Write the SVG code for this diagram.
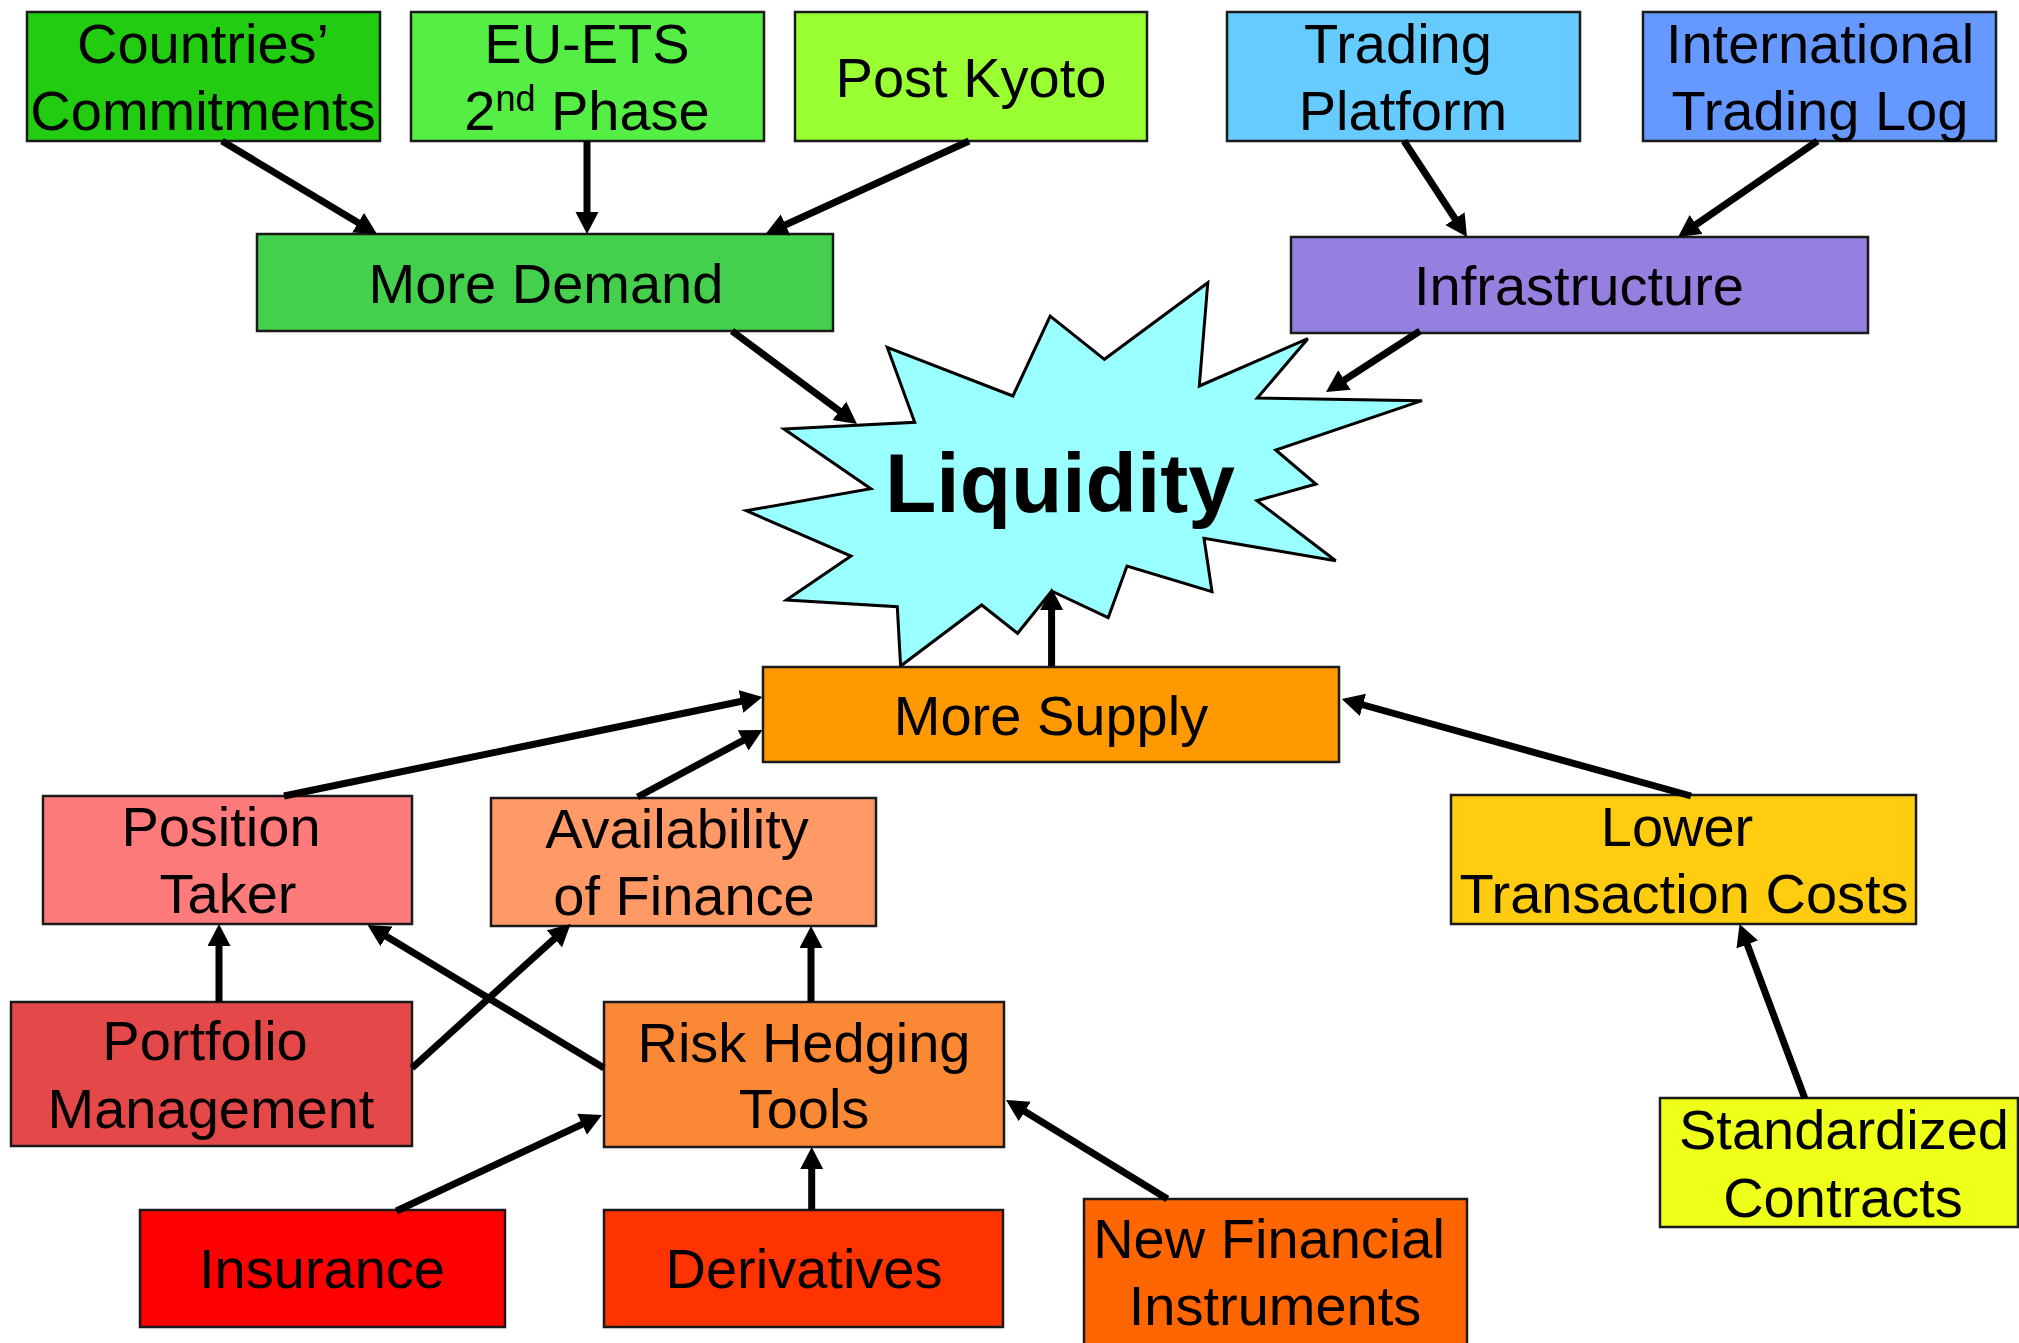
<svg xmlns="http://www.w3.org/2000/svg" width="2019" height="1343" viewBox="0 0 2019 1343">
<defs>
<style>
.box{stroke:#1a1a1a;stroke-width:2.5}
.t{font-family:"Liberation Sans",Arial,sans-serif;font-size:56px;fill:#000;text-anchor:middle}
.big{font-family:"Liberation Sans",Arial,sans-serif;font-size:84px;font-weight:bold;fill:#000;text-anchor:middle}
.c{stroke:#000;stroke-width:7;fill:none;marker-end:url(#ah)}
</style>
<marker id="ah" markerUnits="userSpaceOnUse" markerWidth="24" markerHeight="24" refX="7" refY="11.5" orient="auto">
<path d="M0,0 L22,11.5 L0,23 Z" fill="#000"/>
</marker>
</defs>
<rect width="2019" height="1343" fill="#fff"/>

<g id="countries">
<rect class="box" x="27" y="12" width="353" height="129" fill="#22cc11"/>
<text class="t" x="203" y="63">Countries’</text>
<text class="t" x="203" y="130">Commitments</text>
</g>
<g id="euets">
<rect class="box" x="411" y="12" width="353" height="129" fill="#55ee44"/>
<text class="t" x="587" y="63">EU-ETS</text>
<text class="t" x="587" y="130"><tspan>2</tspan><tspan font-size="36" dy="-19">nd</tspan><tspan dy="19"> Phase</tspan></text>
</g>
<g id="postkyoto">
<rect class="box" x="795" y="12" width="352" height="129" fill="#99ff33"/>
<text class="t" x="971" y="97">Post Kyoto</text>
</g>
<g id="moredemand">
<rect class="box" x="257" y="234" width="576" height="97" fill="#44d04c"/>
<text class="t" x="546" y="303">More Demand</text>
</g>
<g id="tradingplatform">
<rect class="box" x="1227" y="12" width="353" height="129" fill="#66ccff"/>
<text class="t" x="1398" y="63">Trading</text>
<text class="t" x="1403" y="130">Platform</text>
</g>
<g id="itl">
<rect class="box" x="1643" y="12" width="353" height="129" fill="#6699ff"/>
<text class="t" x="1820" y="63">International</text>
<text class="t" x="1820" y="130">Trading Log</text>
</g>
<g id="infrastructure">
<rect class="box" x="1291" y="237" width="577" height="96" fill="#9580e0"/>
<text class="t" x="1579" y="305">Infrastructure</text>
</g>
<g id="liquidity">
<polygon points="887.3,347.3 1012.9,396 1050.2,316 1104.4,359.3 1207.8,282.7 1199.3,386 1307.8,338.7 1257.3,398 1422,400.7 1275.7,450 1315.9,484 1256.9,500.7 1335.7,560.7 1204,538.3 1212,591.7 1127,566 1108.2,617.7 1051.6,591 1017.6,633.3 981.7,605 900.6,666 897.3,606.7 786.4,600 851,556 746.2,510.7 870.8,488.7 784,429 914.7,422.3" fill="#99ffff" stroke="#000" stroke-width="3" stroke-linejoin="miter"/>
<text class="big" x="1060" y="512">Liquidity</text>
</g>
<g id="moresupply">
<rect class="box" x="763" y="667" width="576" height="95" fill="#ff9900"/>
<text class="t" x="1051" y="735">More Supply</text>
</g>
<g id="positiontaker">
<rect class="box" x="43" y="796" width="369" height="128" fill="#ff7b7b"/>
<text class="t" x="221" y="846">Position</text>
<text class="t" x="228" y="913">Taker</text>
</g>
<g id="availability">
<rect class="box" x="491" y="798" width="385" height="128" fill="#ff9966"/>
<text class="t" x="677" y="848">Availability</text>
<text class="t" x="684" y="915">of Finance</text>
</g>
<g id="lowertc">
<rect class="box" x="1451" y="795" width="465" height="129" fill="#ffcc0f"/>
<text class="t" x="1677" y="846">Lower</text>
<text class="t" x="1684" y="913">Transaction Costs</text>
</g>
<g id="portfolio">
<rect class="box" x="11" y="1002" width="401" height="144" fill="#e54848"/>
<text class="t" x="205" y="1060">Portfolio</text>
<text class="t" x="211" y="1128">Management</text>
</g>
<g id="riskhedging">
<rect class="box" x="604" y="1002" width="400" height="145" fill="#fb8835"/>
<text class="t" x="804" y="1062">Risk Hedging</text>
<text class="t" x="804" y="1128">Tools</text>
</g>
<g id="standardized">
<rect class="box" x="1660" y="1098" width="358" height="129" fill="#eeff1a"/>
<text class="t" x="1844" y="1149">Standardized</text>
<text class="t" x="1843" y="1217">Contracts</text>
</g>
<g id="insurance">
<rect class="box" x="140" y="1210" width="365" height="117" fill="#ff0000"/>
<text class="t" x="322" y="1288">Insurance</text>
</g>
<g id="derivatives">
<rect class="box" x="604" y="1210" width="399" height="117" fill="#ff3300"/>
<text class="t" x="804" y="1288">Derivatives</text>
</g>
<g id="newfinancial">
<rect class="box" x="1084" y="1199" width="383" height="160" fill="#ff6600"/>
<text class="t" x="1269" y="1258">New Financial</text>
<text class="t" x="1275" y="1325">Instruments</text>
</g>

<g id="connectors">
<line class="c" x1="222" y1="141" x2="364.1" y2="226.3"/>
<line class="c" x1="587" y1="141" x2="587" y2="219"/>
<line class="c" x1="969" y1="141" x2="779.2" y2="227.8"/>
<line class="c" x1="732" y1="331" x2="845" y2="415"/>
<line class="c" x1="1404" y1="141" x2="1458.8" y2="224.5"/>
<line class="c" x1="1817.5" y1="141" x2="1690.4" y2="228.5"/>
<line class="c" x1="1420" y1="331" x2="1338.6" y2="383.8"/>
<line class="c" x1="1051.6" y1="666" x2="1051.6" y2="603"/>
<line class="c" x1="284" y1="796" x2="747.8" y2="700"/>
<line class="c" x1="637.6" y1="797" x2="749.3" y2="737.1"/>
<line class="c" x1="1691" y1="796" x2="1356.2" y2="703"/>
<line class="c" x1="219" y1="1002" x2="219" y2="939"/>
<line class="c" x1="412" y1="1068" x2="559.5" y2="934.1"/>
<line class="c" x1="604" y1="1068" x2="380.4" y2="932.8"/>
<line class="c" x1="811" y1="1002" x2="811" y2="941"/>
<line class="c" x1="396.4" y1="1211" x2="588.4" y2="1121.3"/>
<line class="c" x1="811.7" y1="1210" x2="811.7" y2="1162"/>
<line class="c" x1="1167.5" y1="1199" x2="1018.8" y2="1107.8"/>
<line class="c" x1="1804.7" y1="1098" x2="1744.8" y2="938"/>
</g>
</svg>
